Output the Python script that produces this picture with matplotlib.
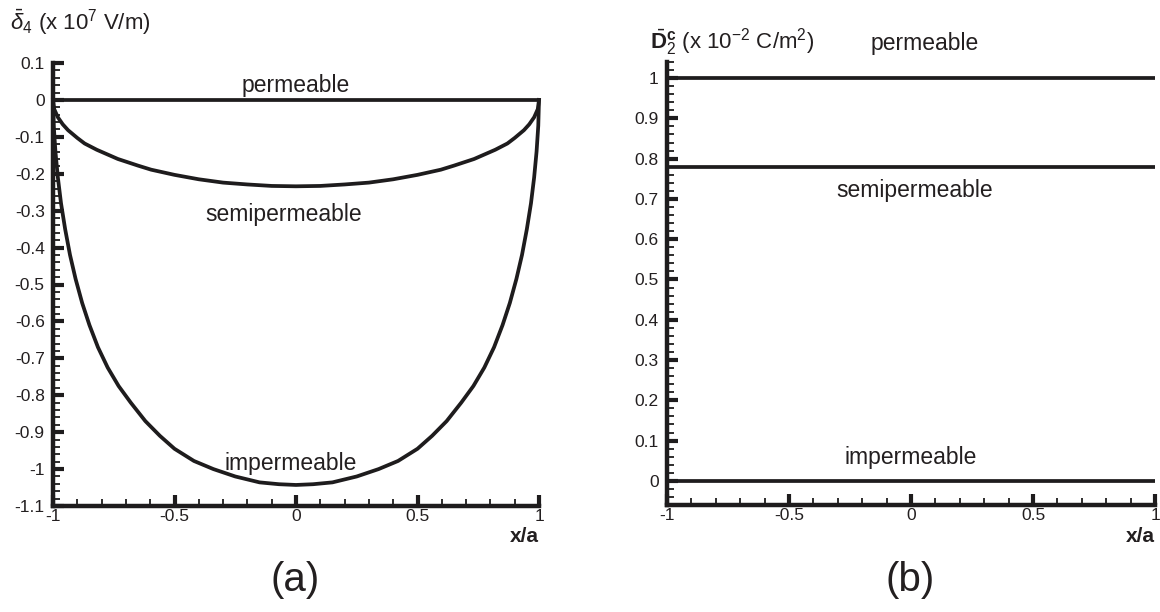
import matplotlib
matplotlib.use("Agg")
import matplotlib.pyplot as plt
from matplotlib.ticker import MultipleLocator, FuncFormatter

plt.rcParams['font.family'] = ['Liberation Sans', 'DejaVu Sans']
plt.rcParams['mathtext.fontset'] = 'custom'
plt.rcParams['mathtext.rm'] = 'Liberation Sans'
plt.rcParams['mathtext.it'] = 'Liberation Sans:italic'
plt.rcParams['mathtext.bf'] = 'Liberation Sans:bold'
plt.rcParams['axes.unicode_minus'] = False

# ---- panel (a) data ----
perm_x = [-1.0, 1.0]
perm_y = [0.0, 0.0]

semi_x = [-1.0, -0.995, -0.98, -0.96, -0.938, -0.90, -0.87, -0.82, -0.733, -0.65, -0.596,
          -0.5, -0.4, -0.3, -0.2, -0.1, 0.0, 0.1, 0.2, 0.3, 0.4, 0.5, 0.596, 0.65, 0.733,
          0.82, 0.87, 0.90, 0.938, 0.96, 0.98, 0.995, 1.0]
semi_y = [0.0, -0.025, -0.047, -0.066, -0.082, -0.103, -0.118, -0.135, -0.160, -0.178, -0.189,
          -0.203, -0.215, -0.224, -0.229, -0.233, -0.234, -0.233, -0.229, -0.224, -0.215, -0.203,
          -0.189, -0.178, -0.160, -0.135, -0.118, -0.103, -0.082, -0.066, -0.047, -0.025, 0.0]

imp_x = [-1.0, -0.997, -0.99, -0.98, -0.967, -0.95, -0.93, -0.907, -0.88, -0.85, -0.815,
         -0.775, -0.73, -0.68, -0.62, -0.56, -0.50, -0.42, -0.34, -0.25, -0.15, -0.07, 0.0,
         0.07, 0.15, 0.25, 0.34, 0.42, 0.50, 0.56, 0.62, 0.68, 0.73, 0.775, 0.815, 0.85,
         0.88, 0.907, 0.93, 0.95, 0.967, 0.98, 0.99, 0.997, 1.0]
imp_y = [0.0, -0.07, -0.14, -0.21, -0.28, -0.35, -0.42, -0.485, -0.55, -0.61, -0.67,
         -0.725, -0.775, -0.82, -0.87, -0.91, -0.945, -0.978, -1.0, -1.02, -1.036, -1.041, -1.043,
         -1.041, -1.036, -1.02, -1.0, -0.978, -0.945, -0.91, -0.87, -0.82, -0.775, -0.725, -0.67, -0.61,
         -0.55, -0.485, -0.42, -0.35, -0.28, -0.21, -0.14, -0.07, 0.0]

# ---- panel (b) data ----
b_x = [-1.0, 1.0]
b_perm = [1.0, 1.0]
b_semi = [0.78, 0.78]
b_imp = [0.0, 0.0]

LC = '#1e1c1d'
TC = '#231f20'
LW = 2.7

fig = plt.figure(figsize=(11.6, 6.12), dpi=100)
W, H = 1160, 612

def make_ax(l, r, t, b):
    return fig.add_axes([l / W, 1 - b / H, (r - l) / W, (b - t) / H])

fmt = FuncFormatter(lambda v, p: ('%g' % round(v, 3)))

def style(ax):
    for s in ['top', 'right']:
        ax.spines[s].set_visible(False)
    for s in ['left', 'bottom']:
        ax.spines[s].set_linewidth(3.2)
        ax.spines[s].set_color(LC)
    ax.xaxis.set_major_locator(MultipleLocator(0.5))
    ax.xaxis.set_minor_locator(MultipleLocator(0.1))
    ax.yaxis.set_major_locator(MultipleLocator(0.1))
    ax.yaxis.set_minor_locator(MultipleLocator(0.02))
    ax.xaxis.set_major_formatter(fmt)
    ax.yaxis.set_major_formatter(fmt)
    ax.tick_params(which='major', direction='in', length=8, width=3, color=LC,
                   labelsize=12.5, labelcolor=TC)
    ax.tick_params(which='minor', direction='in', length=5, width=1.3, color=LC)
    ax.tick_params(axis='y', which='major', pad=6)
    ax.tick_params(axis='x', which='major', pad=2)

LBL = 16.5

# panel (a)
axa = make_ax(53, 539, 63, 506)
axa.plot(perm_x, perm_y, color=LC, lw=LW, solid_capstyle='butt', clip_on=False)
axa.plot(semi_x, semi_y, color=LC, lw=LW, solid_joinstyle='round', clip_on=False)
axa.plot(imp_x, imp_y, color=LC, lw=LW, solid_joinstyle='round', clip_on=False)
axa.set_xlim(-1, 1)
axa.set_ylim(-1.1, 0.1)
style(axa)
axa.text(0.0, 0.04, 'permeable', ha='center', va='center', fontsize=LBL, color=TC)
axa.text(-0.05, -0.31, 'semipermeable', ha='center', va='center', fontsize=LBL, color=TC)
axa.text(-0.02, -0.985, 'impermeable', ha='center', va='center', fontsize=LBL, color=TC)

# panel (b)
axb = make_ax(667, 1155, 62, 505)
axb.plot(b_x, b_perm, color=LC, lw=LW, solid_capstyle='butt', clip_on=False)
axb.plot(b_x, b_semi, color=LC, lw=LW, solid_capstyle='butt', clip_on=False)
axb.plot(b_x, b_imp, color=LC, lw=LW, solid_capstyle='butt', clip_on=False)
axb.set_xlim(-1, 1)
axb.set_ylim(-0.06, 1.04)
style(axb)
axb.text(0.055, 1.085, 'permeable', ha='center', va='center', fontsize=LBL, color=TC, clip_on=False)
axb.text(0.015, 0.72, 'semipermeable', ha='center', va='center', fontsize=LBL, color=TC)
axb.text(0.0, 0.057, 'impermeable', ha='center', va='center', fontsize=LBL, color=TC)

# labels
fig.text(10 / W, 1 - 22 / H, r'$\bar{\delta}_4$ (x 10$^7$ V/m)', ha='left', va='center',
         fontsize=16, color=TC)
fig.text(650 / W, 1 - 42 / H, r'$\bar{\mathbf{D}}_2^{\mathbf{c}}$ (x 10$^{-2}$ C/m$^2$)', ha='left',
         va='center', fontsize=16, color=TC)
fig.text(539 / W, 1 - 537 / H, 'x/a', ha='right', va='center', fontsize=15,
         fontweight='bold', color=TC)
fig.text(1155 / W, 1 - 537 / H, 'x/a', ha='right', va='center', fontsize=15,
         fontweight='bold', color=TC)
fig.text(295 / W, 1 - 580 / H, '(a)', ha='center', va='center', fontsize=29, color=TC)
fig.text(910 / W, 1 - 580 / H, '(b)', ha='center', va='center', fontsize=29, color=TC)

fig.savefig('out.png', dpi=100)
